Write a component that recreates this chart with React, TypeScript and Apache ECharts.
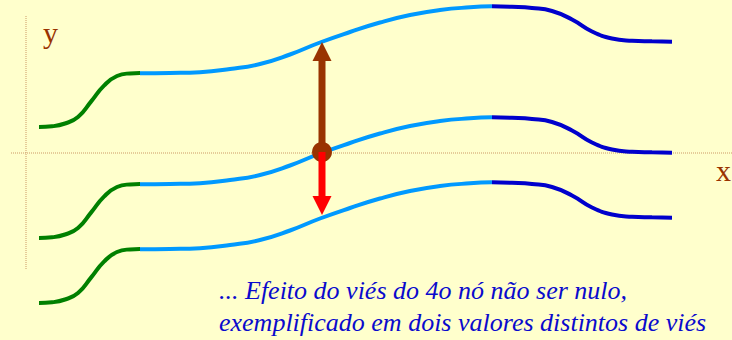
import React, { useEffect, useRef } from "react";
import * as echarts from "echarts";

// x positions of the three segments (shared by the three curves)
const greenX = [13, 26, 39, 52, 65, 78, 91, 104, 114];
const lightX = [114, 144, 174, 204, 234, 264, 294, 324, 354, 384, 414, 444, 466];
const darkX = [466, 486, 506, 526, 546, 566, 586, 606, 626, 646];

// y values of each curve (top: positive bias, middle: zero bias, bottom: negative bias)
const topGreen = [26, 26.7, 29.5, 36, 51.4, 67.4, 77, 79.6, 80];
const midGreen = [-85, -84.3, -81.5, -75, -59.6, -43.6, -34, -31.4, -31];
const botGreen = [-150, -149.3, -146.5, -140, -124.6, -108.6, -99, -96.4, -96];

const topLight = [79.7, 80, 80.8, 84, 89, 98.5, 110.5, 121, 130.5, 138, 143, 145.7, 146.7];
const midLight = [-31.3, -31, -30.2, -27, -22, -12.5, -0.5, 10, 19.5, 27, 32, 34.7, 35.7];
const botLight = [-96.3, -96, -95.2, -92, -87, -77.5, -65.5, -55, -45.5, -38, -33, -30.3, -29.3];

const topDark = [146.7, 146.2, 145, 142, 133.5, 121.5, 114.5, 112.3, 111.7, 111.3];
const midDark = [35.7, 35.2, 34, 31, 22.5, 10.5, 3.5, 1.3, 0.7, 0.3];
const botDark = [-29.3, -29.8, -31, -34, -42.5, -54.5, -61.5, -63.7, -64.3, -64.7];

// bias illustration
const biasPoint = [296, 1];
const biasUpTip = 111;
const biasDownTip = -62;
const headSize = 19;

// axes extents
const yAxisLine = [[0, 137], [0, -117]];
const xAxisLine = [[-15, 0], [706, 0]];

const caption1 = "... Efeito do viés do 4o nó não ser nulo,";
const caption2 = "exemplificado em dois valores distintos de viés";

const zip = (xs: number[], ys: number[]) => xs.map((x, i) => [x, ys[i]]);

const GREEN = "#008000";
const LIGHT = "#0099FF";
const DARK = "#0000CC";
const BROWN = "#993300";
const RED = "#FF0000";
const TEXT_BLUE = "#0A0ACC";

export default function App() {
  const ref = useRef<HTMLDivElement>(null);
  useEffect(() => {
    document.body.style.margin = "0";
    const chart = echarts.init(ref.current!, null, { renderer: "svg" });
    const curve = (data: number[][], color: string) => ({
      type: "line",
      data,
      smooth: 0.5,
      showSymbol: false,
      symbol: "none",
      lineStyle: { color, width: 4 },
      z: 2,
    });
    const axisLine = (data: number[][]) => ({
      type: "line",
      data,
      symbol: "none",
      lineStyle: { color: "#CC9966", width: 1, type: "dotted" },
      z: 1,
    });
    const half = headSize / 2;
    const serif = "'Liberation Serif', 'Times New Roman', serif";
    chart.setOption({
      animation: false,
      backgroundColor: "#FFFFCC",
      grid: { left: 0, right: 0, top: 0, bottom: 0 },
      xAxis: { type: "value", min: -26, max: 706, show: false },
      yAxis: { type: "value", min: -187, max: 153, show: false },
      series: [
        axisLine(yAxisLine),
        axisLine(xAxisLine),
        curve(zip(greenX, topGreen), GREEN),
        curve(zip(lightX, topLight), LIGHT),
        curve(zip(darkX, topDark), DARK),
        curve(zip(greenX, midGreen), GREEN),
        curve(zip(lightX, midLight), LIGHT),
        curve(zip(darkX, midDark), DARK),
        curve(zip(greenX, botGreen), GREEN),
        curve(zip(lightX, botLight), LIGHT),
        curve(zip(darkX, botDark), DARK),
        {
          type: "line",
          data: [biasPoint, [biasPoint[0], biasUpTip - half]],
          symbol: "none",
          lineStyle: { color: BROWN, width: 7 },
          z: 3,
        },
        {
          type: "scatter",
          data: [[biasPoint[0], biasUpTip - half]],
          symbol: "triangle",
          symbolSize: [headSize, headSize],
          itemStyle: { color: BROWN, opacity: 1 },
          z: 3,
        },
        {
          type: "scatter",
          data: [biasPoint],
          symbol: "circle",
          symbolSize: 20,
          itemStyle: { color: BROWN, opacity: 1 },
          z: 4,
        },
        {
          type: "line",
          data: [biasPoint, [biasPoint[0], biasDownTip + half]],
          symbol: "none",
          lineStyle: { color: RED, width: 7 },
          z: 5,
        },
        {
          type: "scatter",
          data: [[biasPoint[0], biasDownTip + half]],
          symbol: "triangle",
          symbolRotate: 180,
          symbolSize: [headSize, headSize],
          itemStyle: { color: RED, opacity: 1 },
          z: 5,
        },
      ],
      graphic: [
        {
          type: "text",
          x: 43,
          y: 32,
          style: {
            text: "y",
            fill: BROWN,
            fontFamily: serif,
            fontSize: 30,
            verticalAlign: "middle",
          },
        },
        {
          type: "text",
          x: 716,
          y: 170,
          style: {
            text: "x",
            fill: BROWN,
            fontFamily: serif,
            fontSize: 30,
            verticalAlign: "middle",
          },
        },
        {
          type: "text",
          x: 219,
          y: 290,
          style: {
            text: caption1,
            fill: TEXT_BLUE,
            fontFamily: serif,
            fontStyle: "italic",
            fontSize: 26,
            verticalAlign: "middle",
          },
        },
        {
          type: "text",
          x: 219,
          y: 322,
          style: {
            text: caption2,
            fill: TEXT_BLUE,
            fontFamily: serif,
            fontStyle: "italic",
            fontSize: 26,
            verticalAlign: "middle",
          },
        },
      ],
    });
    return () => chart.dispose();
  }, []);
  return <div ref={ref} style={{ width: 732, height: 340 }} />;
}
